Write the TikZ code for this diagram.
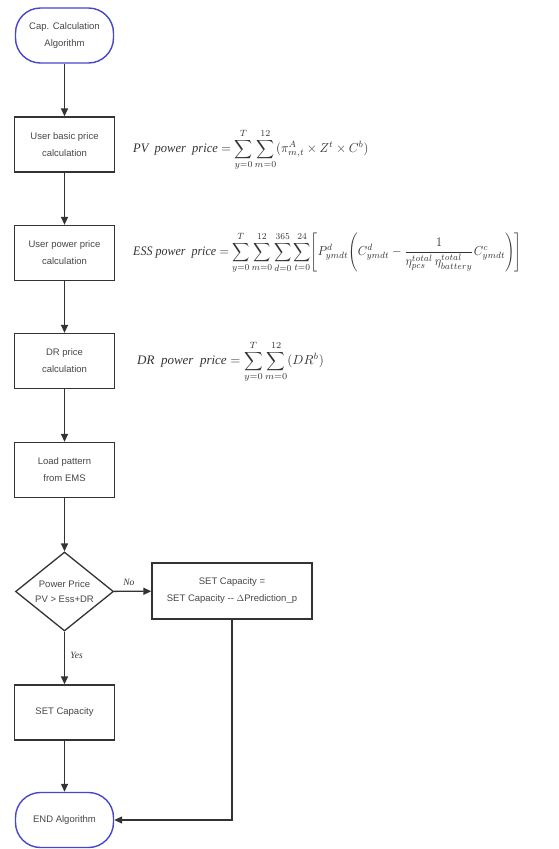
\documentclass[tikz,border=0pt]{standalone}
\usepackage{fontspec}
\usepackage{amsmath}
\setmainfont{Liberation Serif}
\newfontfamily\boxfont{Liberation Sans}
\usetikzlibrary{shapes.geometric,arrows.meta}
\definecolor{termblue}{RGB}{70,70,205}
\definecolor{txtgray}{RGB}{70,70,70}
\tikzset{
  procbox/.style={draw=black!80,line width=1.3pt,minimum width=100pt,minimum height=55pt,
    align=center,inner sep=2pt,font=\boxfont\fontsize{9.5}{17}\selectfont,text=txtgray},
  termbox/.style={draw=termblue,line width=1.4pt,rounded corners=25pt,minimum width=98pt,minimum height=55pt,
    align=center,inner sep=2pt,font=\boxfont\fontsize{9.5}{17}\selectfont,text=txtgray},
  decbox/.style={draw=black!80,line width=1.3pt,diamond,aspect=1.24,minimum width=98pt,minimum height=79pt,
    align=center,inner sep=0pt,font=\boxfont\fontsize{9.5}{15}\selectfont,text=txtgray},
  flow/.style={draw=black!80,line width=1.3pt,-{Triangle[length=8pt,width=7pt]}},
  formula/.style={anchor=west,inner sep=0pt,text=black!80},
  lbl/.style={font=\itshape\fontsize{9.5}{10}\selectfont,text=black!80}
}
\begin{document}
\begin{tikzpicture}[x=1pt,y=-1pt]
\useasboundingbox (0,0) rectangle (559,849);
\node[termbox] (start) at (64.5,35.5) {Cap. Calculation\\Algorithm};
\node[procbox] (b1) at (64.5,144.5) {User basic price\\calculation};
\node[procbox] (b2) at (64.5,253) {User power price\\calculation};
\node[procbox] (b3) at (64.5,361) {DR price\\calculation};
\node[procbox] (b4) at (64.5,470) {Load pattern\\from EMS};
\node[decbox] (dec) at (64.5,591.5) {Power Price\\PV > Ess+DR};
\node[procbox,minimum width=160pt,minimum height=56pt] (upd) at (232,591) {SET Capacity =\\SET Capacity -- $\Delta$Prediction\_p};
\node[procbox] (set) at (64.5,712.5) {SET Capacity};
\node[termbox] (end) at (64.5,820) {END Algorithm};
\coordinate (corner) at (upd.south |- end.east);

\draw[flow] (start) -- (b1);
\draw[flow] (b1) -- (b2);
\draw[flow] (b2) -- (b3);
\draw[flow] (b3) -- (b4);
\draw[flow] (b4) -- (dec);
\draw[flow] (dec) -- node[lbl,above,pos=0.4,yshift=2pt] (no) {No} (upd);
\draw[flow] (dec) -- node[lbl,right,pos=0.45,xshift=2pt] (yes) {Yes} (set);
\draw[flow] (set) -- (end);
\draw[flow] (upd.south) -- (corner) -- (end.east);

\node[formula] (fpv) at (133,150) {\scalebox{1.25}[1.3]{$\mathit{PV\ \ power\ \ price} = \displaystyle\sum_{y=0}^{T}\sum_{m=0}^{12}(\pi^{A}_{m,t}\times Z^{t}\times C^{b})$}};
\node[formula] (fess) at (133,253) {\scalebox{1.2}[1.3]{$\mathit{ESS\ power\ \ price} = \displaystyle\sum_{y=0}^{T}\sum_{m=0}^{12}\sum_{d=0}^{365}\sum_{t=0}^{24}\Biggl[P^{d}_{ymdt}\Biggl(C^{d}_{ymdt}-\frac{1}{\eta^{total}_{pcs}\,\eta^{total}_{battery}}C^{c}_{ymdt}\Biggr)\Biggr]$}};
\node[formula] (fdr) at (137,362) {\scalebox{1.3}[1.3]{$\mathit{DR\ \ power\ \ price} = \displaystyle\sum_{y=0}^{T}\sum_{m=0}^{12}(DR^{b})$}};
\end{tikzpicture}
\end{document}
